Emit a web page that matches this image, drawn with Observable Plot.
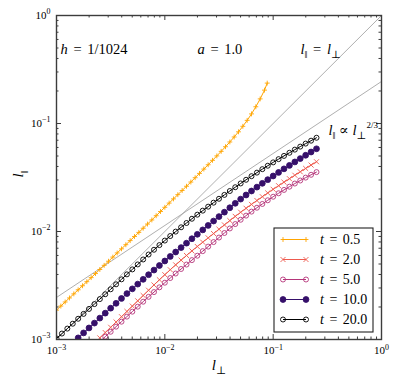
<!DOCTYPE html>
<html>
<head>
<meta charset="utf-8">
<script src="https://cdn.jsdelivr.net/npm/d3@7"></script>
<script src="https://cdn.jsdelivr.net/npm/@observablehq/plot@0.6"></script>
<style>
  html, body { margin: 0; padding: 0; background: #fff; }
  #chart { width: 399px; height: 386px; }
  #chart svg text, #chart svg tspan { font-family: 'Liberation Serif', 'DejaVu Serif', serif !important; }
</style>
</head>
<body>
<div id="chart"></div>
<script>
// ---------------- data ----------------
const seriesLabels = ["t = 0.5", "t = 2.0", "t = 5.0", "t = 10.0", "t = 20.0"];

const lPerp_t05 = [0.001000,0.001096,0.001202,0.001318,0.001445,0.001585,0.001738,0.001905,0.002089,0.002291,
  0.002512,0.002754,0.003020,0.003311,0.003631,0.003981,0.004365,0.004786,0.005248,0.005754,
  0.006310,0.006918,0.007586,0.008318,0.009120,0.01000,0.01096,0.01202,0.01318,0.01445,
  0.01585,0.01738,0.01905,0.02089,0.02291,0.02512,0.02754,0.03020,0.03311,0.03631,
  0.03981,0.04365,0.04786,0.05248,0.05754,0.06310,0.06918,0.07586,0.08318,0.08810];
const lPar_t05 = [0.001870,0.002040,0.002225,0.002425,0.002645,0.002885,0.003145,0.003430,0.003740,0.004080,
  0.004450,0.004860,0.005305,0.005795,0.006330,0.006910,0.007545,0.008235,0.008990,0.009810,
  0.01072,0.01172,0.01279,0.01400,0.01531,0.01675,0.01832,0.02004,0.02193,0.02399,
  0.02624,0.02871,0.03148,0.03451,0.03784,0.04150,0.04560,0.05012,0.05521,0.06095,
  0.06745,0.07499,0.08375,0.09419,0.1069,0.1227,0.1429,0.1690,0.2037,0.2366];

const lPerp_t2 = [0.002512,0.002818,0.003162,0.003548,0.003981,0.004467,0.005012,0.005623,0.006310,0.007079,
  0.007943,0.008913,0.01000,0.01122,0.01259,0.01413,0.01585,0.01778,0.01995,0.02239,
  0.02512,0.02818,0.03162,0.03548,0.03981,0.04467,0.05012,0.05623,0.06310,0.07079,
  0.07943,0.08913,0.1000,0.1122,0.1259,0.1413,0.1585,0.1778,0.1995,0.2239,0.2512];
const lPar_t2 = [0.001035,0.001159,0.001297,0.001452,0.001626,0.001820,0.002037,0.002280,0.002553,0.002858,
  0.003199,0.003573,0.003981,0.004426,0.004909,0.005433,0.005998,0.006607,0.007261,0.007962,
  0.008730,0.009572,0.01050,0.01151,0.01262,0.01380,0.01507,0.01641,0.01782,0.01936,
  0.02099,0.02275,0.02460,0.02655,0.02864,0.03083,0.03319,0.03573,0.03837,0.04121,0.04426];

const lPerp_t5 = [0.002512,0.002818,0.003162,0.003548,0.003981,0.004467,0.005012,0.005623,0.006310,0.007079,
  0.007943,0.008913,0.01000,0.01122,0.01259,0.01413,0.01585,0.01778,0.01995,0.02239,
  0.02512,0.02818,0.03162,0.03548,0.03981,0.04467,0.05012,0.05623,0.06310,0.07079,
  0.07943,0.08913,0.1000,0.1122,0.1259,0.1413,0.1585,0.1778,0.1995,0.2239,0.2512];
const lPar_t5 = [0.000955,0.001062,0.001180,0.001315,0.001462,0.001629,0.001811,0.002014,0.002239,0.002483,
  0.002748,0.003041,0.003357,0.003707,0.004083,0.004498,0.004943,0.005433,0.005970,0.006577,
  0.007244,0.007980,0.008790,0.009683,0.01067,0.01172,0.01285,0.01403,0.01528,0.01660,
  0.01799,0.01945,0.02099,0.02259,0.02427,0.02600,0.02780,0.02965,0.03155,0.03350,0.03548];

const lPerp_t10 = [0.001585,0.001778,0.001995,0.002239,0.002512,0.002818,0.003162,0.003548,0.003981,0.004467,
  0.005012,0.005623,0.006310,0.007079,0.007943,0.008913,0.01000,0.01122,0.01259,0.01413,
  0.01585,0.01778,0.01995,0.02239,0.02512,0.02818,0.03162,0.03548,0.03981,0.04467,
  0.05012,0.05623,0.06310,0.07079,0.07943,0.08913,0.1000,0.1122,0.1259,0.1413,
  0.1585,0.1778,0.1995,0.2239,0.2512];
const lPar_t10 = [0.001035,0.001151,0.001279,0.001419,0.001578,0.001754,0.001950,0.002163,0.002399,0.002661,
  0.002944,0.003258,0.003606,0.003981,0.004395,0.004842,0.005333,0.005875,0.006457,0.007096,
  0.007798,0.008570,0.009419,0.01035,0.01138,0.01250,0.01374,0.01510,0.01660,0.01824,
  0.01995,0.02178,0.02371,0.02576,0.02793,0.03020,0.03266,0.03524,0.03802,0.04093,
  0.04406,0.04732,0.05082,0.05445,0.05834];

const lPerp_t20 = [0.001000,0.001122,0.001259,0.001413,0.001585,0.001778,0.001995,0.002239,0.002512,0.002818,
  0.003162,0.003548,0.003981,0.004467,0.005012,0.005623,0.006310,0.007079,0.007943,0.008913,
  0.01000,0.01122,0.01259,0.01413,0.01585,0.01778,0.01995,0.02239,0.02512,0.02818,
  0.03162,0.03548,0.03981,0.04467,0.05012,0.05623,0.06310,0.07079,0.07943,0.08913,
  0.1000,0.1122,0.1259,0.1413,0.1585,0.1778,0.1995,0.2239,0.2512];
const lPar_t20 = [0.001023,0.001135,0.001262,0.001400,0.001556,0.001726,0.001919,0.002128,0.002366,0.002624,
  0.002917,0.003243,0.003606,0.004009,0.004457,0.004955,0.005508,0.006124,0.006776,0.007482,
  0.008241,0.009078,0.009977,0.01094,0.01199,0.01312,0.01432,0.01560,0.01698,0.01849,
  0.02009,0.02183,0.02371,0.02570,0.02786,0.03013,0.03251,0.03508,0.03776,0.04064,
  0.04365,0.04677,0.05012,0.05358,0.05728,0.06109,0.06516,0.06934,0.07379];

// reference lines l_par = l_perp and l_par ∝ l_perp^(2/3)
const refPerp = [0.001, 1];
const refEqual = [0.001, 1];
const refPow23 = [0.00245, 0.245];

// axis ticks
const decades = [0.001, 0.01, 0.1, 1];
const decadeLabels = ["10^{\u22123}", "10^{\u22122}", "10^{\u22121}", "10^{0}"];
const minorMultipliers = [2, 3, 4, 5, 6, 7, 8, 9];

// texts
const annotationTexts = ["h = 1/1024", "a = 1.0", "l\u2016 = l\u22A5", "l\u2016 \u221D l\u22A5^{2/3}"];
const axisTitles = {x: "l\u22A5", y: "l\u2016"};

// ---------------- layout & style ----------------
const W = 399, H = 386;
const M = {top: 15, right: 18, bottom: 47, left: 56};
const plotW = W - M.left - M.right;
const plotH = H - M.top - M.bottom;
const FONT = "'Liberation Serif', 'DejaVu Serif', serif";
const axisColor = "#3c3c3c";

const styles = [
  {color: "#ffa500", symbol: d3.symbolPlus,   r: 1.7, fill: "none"},
  {color: "#ee5a4e", symbol: d3.symbolTimes,  r: 2.4, fill: "none"},
  {color: "#b5367a", symbol: d3.symbolCircle, r: 2.5, fill: "none"},
  {color: "#36106a", symbol: d3.symbolCircle, r: 2.9, fill: "#36106a"},
  {color: "#000000", symbol: d3.symbolCircle, r: 2.5, fill: "none"}
];
const seriesData = [
  [lPerp_t05, lPar_t05], [lPerp_t2, lPar_t2], [lPerp_t5, lPar_t5],
  [lPerp_t10, lPar_t10], [lPerp_t20, lPar_t20]
];

const rowsOf = ([xs, ys], label) => xs.map((x, i) => ({x, y: ys[i], t: label}));
const refRows = refPerp.map((x, i) => ({x, eq: refEqual[i], pw: refPow23[i]}));
const minorTicks = decades.slice(0, 3).flatMap(d => minorMultipliers.map(m => m * d));

const seriesMarks = seriesData.flatMap((sd, k) => {
  const rows = rowsOf(sd, seriesLabels[k]);
  const s = styles[k];
  return [
    Plot.line(rows, {x: "x", y: "y", stroke: s.color, strokeWidth: 1, clip: true}),
    Plot.dot(rows, {x: "x", y: "y", symbol: s.symbol, r: s.r, stroke: s.color,
      fill: s.fill, strokeWidth: 0.9, clip: true})
  ];
});

const tickMarks = [
  Plot.ruleX(decades, {insetTop: plotH - 5, stroke: axisColor}),
  Plot.ruleX(decades, {insetBottom: plotH - 5, stroke: axisColor}),
  Plot.ruleX(minorTicks, {insetTop: plotH - 2.5, stroke: axisColor}),
  Plot.ruleX(minorTicks, {insetBottom: plotH - 2.5, stroke: axisColor}),
  Plot.ruleY(decades, {insetRight: plotW - 5, stroke: axisColor}),
  Plot.ruleY(decades, {insetLeft: plotW - 5, stroke: axisColor}),
  Plot.ruleY(minorTicks, {insetRight: plotW - 2.5, stroke: axisColor}),
  Plot.ruleY(minorTicks, {insetLeft: plotW - 2.5, stroke: axisColor})
];

const annFont = 14.5;
const textMarks = [
  Plot.text([annotationTexts[0]], {frameAnchor: "top-left", dx: 4, dy: 28.5, textAnchor: "start", fontSize: annFont, fill: "#000"}),
  Plot.text([annotationTexts[1]], {frameAnchor: "top-left", dx: 141, dy: 28.5, textAnchor: "start", fontSize: annFont, fill: "#000"}),
  Plot.text([annotationTexts[2]], {frameAnchor: "top-left", dx: 244, dy: 28.5, textAnchor: "start", fontSize: annFont, fill: "#000"}),
  Plot.text([annotationTexts[3]], {frameAnchor: "top-left", dx: 272, dy: 109.5, textAnchor: "start", fontSize: annFont, fill: "#000"}),
  Plot.text([axisTitles.x], {frameAnchor: "bottom", dy: 30, fontSize: 15, fill: "#000"}),
  Plot.text([axisTitles.y], {frameAnchor: "left", dx: -38, rotate: -90, fontSize: 15, fill: "#000"})
];

const chart = Plot.plot({
  width: W, height: H,
  marginTop: M.top, marginRight: M.right, marginBottom: M.bottom, marginLeft: M.left,
  style: {fontFamily: FONT, fontSize: "11px", background: "#fff", color: "#000"},
  x: {type: "log", domain: [0.001, 1], ticks: decades,
      tickFormat: d => decadeLabels[decades.indexOf(d)], tickSize: 0, tickPadding: 7, label: null},
  y: {type: "log", domain: [0.001, 1], ticks: decades,
      tickFormat: d => decadeLabels[decades.indexOf(d)], tickSize: 0, tickPadding: 6, label: null},
  marks: [
    Plot.line(refRows, {x: "x", y: "eq", stroke: "#9a9a9a", strokeWidth: 0.8, clip: true}),
    Plot.line(refRows, {x: "x", y: "pw", stroke: "#9a9a9a", strokeWidth: 0.8, clip: true}),
    ...seriesMarks,
    ...tickMarks,
    Plot.frame({stroke: axisColor, strokeWidth: 1.4}),
    ...textMarks
  ]
});

// ---------------- legend (inside the frame, lower right) ----------------
const svg = d3.select(chart.tagName.toLowerCase() === "svg" ? chart : chart.querySelector("svg"));
svg.attr("font-family", FONT).style("font-family", FONT);
const frameRight = W - M.right, frameBottom = H - M.bottom;
const boxW = 99, boxH = 104;
const lg = svg.append("g").attr("transform", `translate(${frameRight - 8 - boxW},${frameBottom - 7 - boxH})`)
  .attr("text-anchor", "start");
lg.append("rect").attr("width", boxW).attr("height", boxH)
  .attr("fill", "#fff").attr("stroke", "#222").attr("stroke-width", 1.1);
seriesLabels.forEach((lab, k) => {
  const s = styles[k];
  const cy = 11.5 + 20 * k;
  lg.append("line").attr("x1", 9).attr("x2", 32).attr("y1", cy).attr("y2", cy)
    .attr("stroke", s.color).attr("stroke-width", 1);
  [9, 32].forEach(cx => {
    lg.append("path").attr("d", d3.symbol(s.symbol, Math.PI * s.r * s.r)())
      .attr("transform", `translate(${cx},${cy})`)
      .attr("stroke", s.color).attr("fill", s.fill).attr("stroke-width", 0.9);
  });
  lg.append("text").attr("x", 46).attr("y", cy).attr("dy", "0.34em")
    .attr("text-anchor", "start").attr("font-size", 14).attr("fill", "#000").text(lab);
});

// ---------------- math-like rich text (italic variables, sub/superscripts) ----------------
function tokenize(str) {
  const parts = [];
  let i = 0;
  const push = (s, k) => {
    const last = parts[parts.length - 1];
    if (last && last[1] === k) last[0] += s; else parts.push([s, k]);
  };
  while (i < str.length) {
    const c = str[i];
    if (c === "^" && str[i + 1] === "{") {
      const j = str.indexOf("}", i);
      push(str.slice(i + 2, j), "sup"); i = j + 1; continue;
    }
    if (/[A-Za-z]/.test(c)) push(c, "i");
    else if (c === "\u2016" || c === "\u22A5") push(c, "sub");
    else push(c, "n");
    i++;
  }
  return parts;
}
function richify(el) {
  const str = el.textContent;
  if (!/[A-Za-z^\u2016\u22A5]/.test(str)) return;
  const fs = parseFloat(el.getAttribute("font-size") || getComputedStyle(el).fontSize) || 11;
  const parts = tokenize(str);
  const sel = d3.select(el);
  sel.text(null);
  if (/=/.test(str)) sel.style("word-spacing", "2px");
  const isAxisTick = /^10/.test(str);
  let shift = 0;
  for (const [s, k] of parts) {
    const t = sel.append("tspan").text(s);
    const target = k === "sub" ? fs * 0.28 : k === "sup" ? -fs * (isAxisTick ? 0.42 : 0.5) : 0;
    if (target !== shift) { t.attr("dy", target - shift); shift = target; }
    if (k === "i") t.attr("font-style", "italic");
    if (k === "sub") t.attr("font-size", fs * 0.72);
    if (k === "sup") t.attr("font-size", fs * (isAxisTick ? 0.72 : 0.62));
  }
}
document.getElementById("chart").appendChild(chart);
svg.selectAll("text").each(function () {
  if (this.querySelector("tspan")) return;
  richify(this);
});
svg.selectAll("text, tspan").attr("font-family", FONT).style("font-family", FONT);
</script>
</body>
</html>
